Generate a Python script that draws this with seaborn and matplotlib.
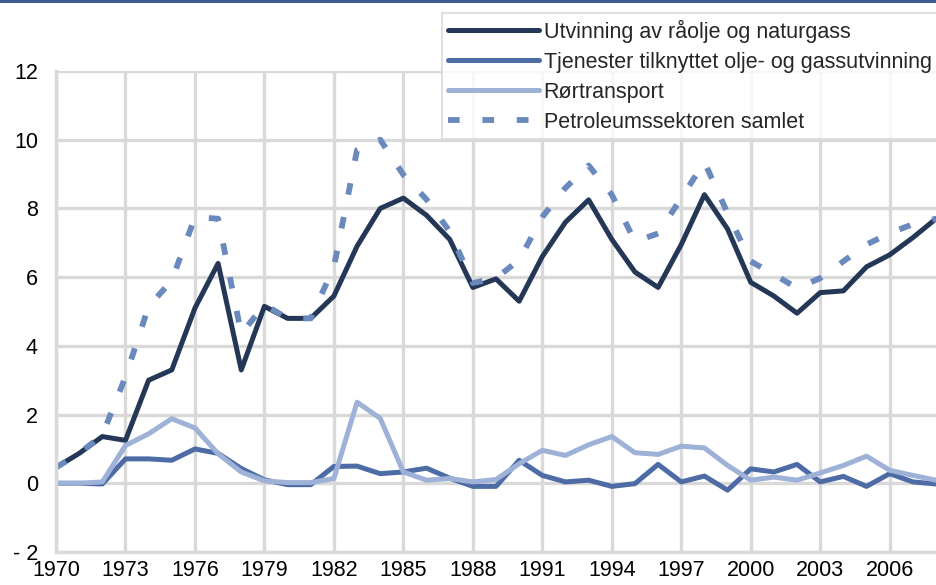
import matplotlib
matplotlib.use("Agg")
import matplotlib.pyplot as plt
import seaborn as sns
import pandas as pd
from matplotlib.lines import Line2D

# data (billion NOK, approx.)
years = list(range(1970, 2009))
utvinning = [0.46, 0.87, 1.36, 1.25, 3.0, 3.3, 5.1, 6.4, 3.3, 5.15,
             4.8, 4.8, 5.45, 6.9, 8.0, 8.3, 7.8, 7.1, 5.7, 5.95,
             5.3, 6.6, 7.6, 8.25, 7.1, 6.15, 5.7, 6.95, 8.4, 7.4,
             5.85, 5.45, 4.95, 5.55, 5.6, 6.3, 6.65, 7.15, 7.7]
tjenester = [0.0, 0.0, -0.02, 0.71, 0.71, 0.67, 1.0, 0.87, 0.43, 0.1,
             -0.04, -0.04, 0.49, 0.5, 0.28, 0.33, 0.44, 0.15, -0.09, -0.09,
             0.67, 0.23, 0.04, 0.09, -0.09, -0.01, 0.55, 0.04, 0.21, -0.2,
             0.42, 0.33, 0.55, 0.04, 0.2, -0.09, 0.28, 0.04, -0.02]
rortransport = [0.0, 0.0, 0.04, 1.1, 1.44, 1.88, 1.61, 0.86, 0.33, 0.07,
                0.02, 0.02, 0.14, 2.36, 1.89, 0.33, 0.09, 0.14, 0.04, 0.11,
                0.57, 0.96, 0.81, 1.12, 1.36, 0.89, 0.84, 1.08, 1.03, 0.52,
                0.09, 0.18, 0.09, 0.3, 0.52, 0.79, 0.38, 0.23, 0.09]
samlet = [0.46, 0.87, 1.4, 3.1, 5.15, 5.9, 7.75, 7.7, 4.35, 5.2,
          4.8, 4.8, 6.3, 9.7, 10.0, 8.98, 8.26, 7.33, 5.83, 5.97,
          6.5, 7.75, 8.6, 9.25, 8.4, 7.04, 7.27, 8.3, 9.35, 7.86,
          6.46, 6.08, 5.68, 5.97, 6.46, 6.95, 7.28, 7.54, 7.7]

labels = ["Utvinning av råolje og naturgass",
          "Tjenester tilknyttet olje- og gassutvinning",
          "Rørtransport",
          "Petroleumssektoren samlet"]
colors = ["#243757", "#4d6ba5", "#9eb1d7", "#6a89bd"]
x_ticks = list(range(1970, 2009, 3))
y_ticks = [-2, 0, 2, 4, 6, 8, 10, 12]
y_ticklabels = ["- 2", "0", "2", "4", "6", "8", "10", "12"]

sns.set_style("white")
plt.rcParams['font.family'] = ['Liberation Sans', 'DejaVu Sans']

fig = plt.figure(figsize=(9.36, 5.85), dpi=100)
ax = fig.add_axes([56 / 936, 1 - 552 / 585, 1 - 56 / 936, (552 - 71) / 585])

df = pd.DataFrame({"year": years, labels[0]: utvinning, labels[1]: tjenester,
                   labels[2]: rortransport, labels[3]: samlet})

dash = (0, (2.0, 3.9))
solid_lw = 3.6
dash_lw = 4.2
for i, lab in enumerate(labels):
    if i == 3:
        sns.lineplot(data=df, x="year", y=lab, ax=ax, color=colors[i], lw=dash_lw,
                     linestyle=dash, dash_capstyle="butt")
    else:
        sns.lineplot(data=df, x="year", y=lab, ax=ax, color=colors[i], lw=solid_lw)

ax.set_xlim(1970, 2008)
ax.set_ylim(-2, 12)
ax.set_xticks(x_ticks)
ax.set_xticklabels([str(y) for y in x_ticks])
ax.set_yticks(y_ticks)
ax.set_yticklabels(y_ticklabels)
ax.set_xlabel("")
ax.set_ylabel("")
ax.grid(True, color="#d9d9d9", lw=2.4)
ax.set_axisbelow(True)
for side in ["top", "right"]:
    ax.spines[side].set_visible(False)
for side in ["left", "bottom"]:
    ax.spines[side].set_color("#d9d9d9")
    ax.spines[side].set_linewidth(2.4)
ax.tick_params(axis="both", length=0, labelsize=15.5, colors="black")
ax.tick_params(axis="y", pad=13)
ax.tick_params(axis="x", pad=6)

# legend
handles = [Line2D([], [], color=colors[0], lw=solid_lw),
           Line2D([], [], color=colors[1], lw=solid_lw),
           Line2D([], [], color=colors[2], lw=solid_lw),
           Line2D([], [], color=colors[3], lw=dash_lw, linestyle=dash)]
leg = fig.legend(handles, labels, loc="upper left", bbox_to_anchor=(442 / 936, 1 - 13 / 585),
                 fontsize=15.5, frameon=True, fancybox=False, handlelength=4.2,
                 handletextpad=0.22, labelspacing=0.42, borderpad=0.3, borderaxespad=0)
leg.get_frame().set_edgecolor("#d9d9d9")
leg.get_frame().set_linewidth(1.5)

# top border line
fig.add_artist(Line2D([0, 1], [1 - 1 / 585, 1 - 1 / 585], color="#3f5b93", lw=2.2,
                      transform=fig.transFigure))

fig.savefig("out.png", dpi=100)
